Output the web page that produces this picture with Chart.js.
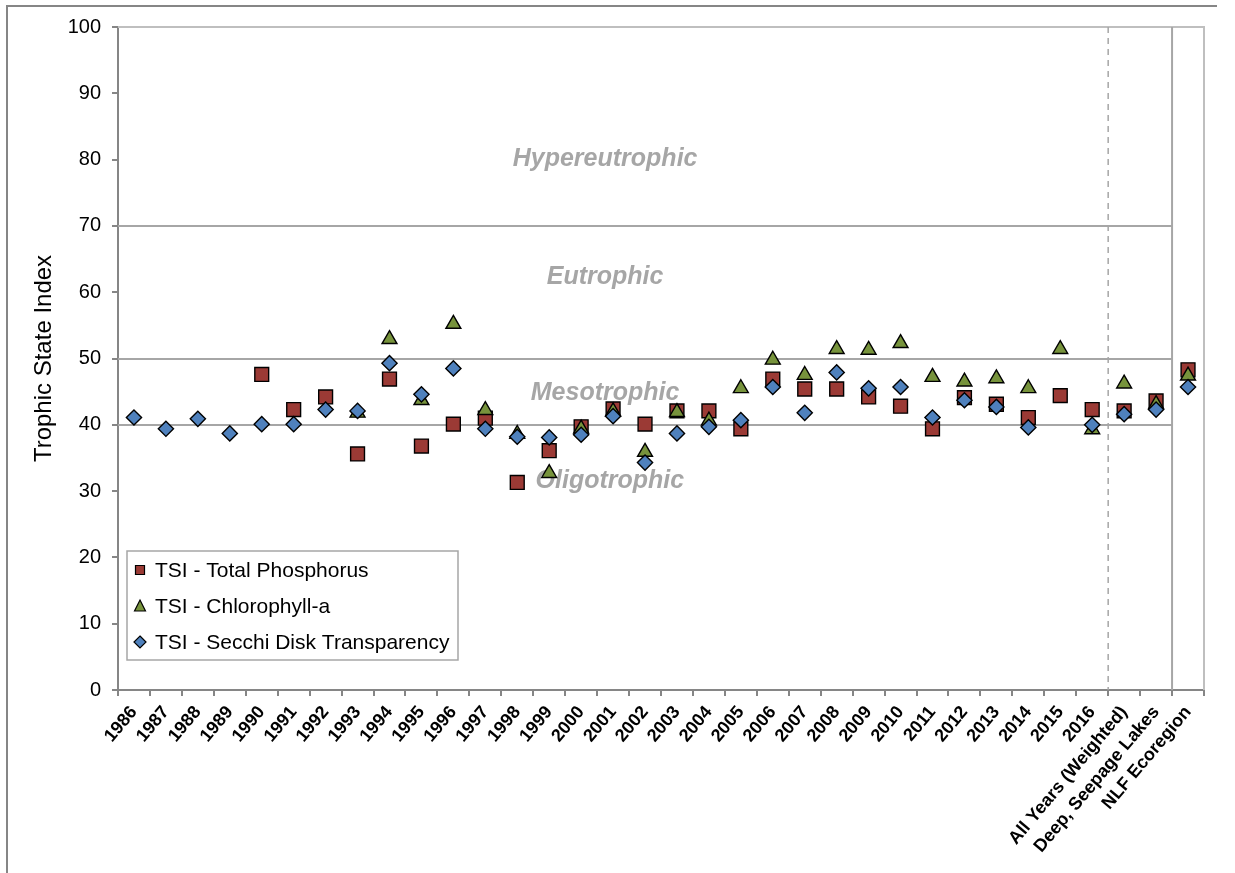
<!DOCTYPE html>
<html>
<head>
<meta charset="utf-8">
<title>Trophic State Index</title>
<script src="https://cdn.jsdelivr.net/npm/chart.js"></script>
<style>
  html, body { margin: 0; padding: 0; background: #fff; }
  canvas { display: block; }
</style>
</head>
<body>
<canvas id="chart" width="1235" height="873"></canvas>
<script>
const categories = ['1986', '1987', '1988', '1989', '1990', '1991', '1992', '1993', '1994', '1995',
  '1996', '1997', '1998', '1999', '2000', '2001', '2002', '2003', '2004', '2005', '2006', '2007',
  '2008', '2009', '2010', '2011', '2012', '2013', '2014', '2015', '2016',
  'All Years (Weighted)', 'Deep, Seepage Lakes', 'NLF Ecoregion'];

const totalPhosphorus = [null, null, null, null, 47.6, 42.3, 44.2, 35.6, 46.9, 36.8,
  40.1, 41.0, 31.3, 36.1, 39.7, 42.4, 40.1, 42.1, 42.1, 39.4, 46.9, 45.4,
  45.4, 44.2, 42.8, 39.4, 44.1, 43.1, 41.1, 44.4, 42.3,
  42.1, 43.6, 48.3];

const chlorophyll = [null, null, null, null, null, null, null, 41.8, 52.9, 43.7,
  55.2, 42.2, 38.6, 32.7, 39.4, 42.0, 35.9, 41.9, 40.6, 45.5, 49.8, 47.5,
  51.4, 51.3, 52.3, 47.2, 46.5, 47.0, 45.5, 51.4, 39.3,
  46.2, 43.1, 47.4];

const secchi = [41.1, 39.4, 40.9, 38.7, 40.1, 40.1, 42.3, 42.1, 49.3, 44.6,
  48.5, 39.4, 38.2, 38.1, 38.5, 41.3, 34.3, 38.7, 39.7, 40.7, 45.7, 41.8,
  47.9, 45.5, 45.7, 41.1, 43.7, 42.7, 39.6, null, 40.0,
  41.6, 42.3, 45.7];

const yTicks = [0, 10, 20, 30, 40, 50, 60, 70, 80, 90, 100];
const zoneLines = [40, 50, 70];
const zoneNames = ['Hypereutrophic', 'Eutrophic', 'Mesotrophic', 'Oligotrophic'];
const zoneLabelY = [80, 62.3, 44.8, 31.5];

const FONT = 'Arial, "Liberation Sans", sans-serif';
const GRAY = '#A6A6A6';
const AXIS = '#868686';

const seriesStyle = [
  { label: 'TSI - Total Phosphorus', color: '#9B3A35', shape: 'square' },
  { label: 'TSI - Chlorophyll-a', color: '#77933C', shape: 'triangle' },
  { label: 'TSI - Secchi Disk Transparency', color: '#4F81BD', shape: 'diamond' }
];

function marker(ctx, shape, x, y, s, fill) {
  ctx.save();
  ctx.fillStyle = fill;
  ctx.strokeStyle = '#000';
  ctx.lineWidth = 1.2;
  ctx.beginPath();
  if (shape === 'square') {
    ctx.rect(x - s / 2, y - s / 2, s, s);
  } else if (shape === 'triangle') {
    ctx.moveTo(x, y - s / 2 - 1);
    ctx.lineTo(x + s / 2 + 0.5, y + s / 2);
    ctx.lineTo(x - s / 2 - 0.5, y + s / 2);
    ctx.closePath();
  } else {
    ctx.moveTo(x, y - s / 2 - 1);
    ctx.lineTo(x + s / 2 + 1, y);
    ctx.lineTo(x, y + s / 2 + 1);
    ctx.lineTo(x - s / 2 - 1, y);
    ctx.closePath();
  }
  ctx.fill();
  ctx.stroke();
  ctx.restore();
}

// frame, plot borders, class boundaries and the class names
const backdrop = {
  id: 'backdrop',
  beforeDraw(chart) {
    const ctx = chart.ctx;
    ctx.save();
    ctx.fillStyle = '#fff';
    ctx.fillRect(0, 0, chart.width, chart.height);
    ctx.strokeStyle = AXIS;
    ctx.lineWidth = 2;
    ctx.beginPath();
    ctx.moveTo(7, 873);
    ctx.lineTo(7, 6);
    ctx.lineTo(1217, 6);
    ctx.stroke();
    ctx.restore();
  },
  beforeDatasetsDraw(chart) {
    const { ctx, chartArea: a, scales: { x, y } } = chart;
    const dashX = (x.getPixelForValue(30) + x.getPixelForValue(31)) / 2;
    const solidX = (x.getPixelForValue(32) + x.getPixelForValue(33)) / 2;
    ctx.save();
    ctx.lineWidth = 2;
    ctx.strokeStyle = '#BFBFBF';
    ctx.beginPath();
    ctx.moveTo(a.left, a.top);
    ctx.lineTo(a.right, a.top);
    ctx.lineTo(a.right, a.bottom);
    ctx.stroke();

    ctx.strokeStyle = GRAY;
    zoneLines.forEach(v => {
      const py = Math.round(y.getPixelForValue(v));
      ctx.beginPath();
      ctx.moveTo(a.left, py);
      ctx.lineTo(solidX, py);
      ctx.stroke();
    });
    ctx.beginPath();
    ctx.moveTo(solidX, a.top);
    ctx.lineTo(solidX, a.bottom);
    ctx.stroke();

    ctx.lineWidth = 1.5;
    ctx.setLineDash([6, 5]);
    ctx.beginPath();
    ctx.moveTo(dashX, a.top);
    ctx.lineTo(dashX, a.bottom);
    ctx.stroke();
    ctx.setLineDash([]);

    ctx.fillStyle = GRAY;
    ctx.font = 'italic bold 25px ' + FONT;
    ctx.textAlign = 'center';
    ctx.textBaseline = 'middle';
    zoneNames.forEach((name, i) => {
      const px = x.getPixelForValue(i === 3 ? 14.9 : 14.75);
      ctx.fillText(name, px, y.getPixelForValue(zoneLabelY[i]));
    });
    ctx.restore();
  },
  afterDraw(chart) {
    const { ctx, chartArea: a } = chart;
    const bx = a.left + 9, by = a.bottom - 139, bw = 331, bh = 109;
    ctx.save();
    ctx.fillStyle = '#fff';
    ctx.fillRect(bx, by, bw, bh);
    ctx.strokeStyle = GRAY;
    ctx.lineWidth = 1.5;
    ctx.strokeRect(bx, by, bw, bh);
    ctx.font = '21px ' + FONT;
    ctx.fillStyle = '#000';
    ctx.textBaseline = 'middle';
    ctx.textAlign = 'left';
    seriesStyle.forEach((s, i) => {
      const ry = by + 19 + i * 36;
      marker(ctx, s.shape, bx + 13, ry, s.shape === 'square' ? 9 : 10, s.color);
      ctx.fillText(s.label, bx + 28, ry + 1);
    });
    ctx.restore();
  }
};

const values = [totalPhosphorus, chlorophyll, secchi];
const pointSpec = [
  { style: 'rect', radius: 9.8, order: 2 },
  { style: 'triangle', radius: 8.6, order: 1 },
  { style: 'rectRot', radius: 7.6, order: 0 }
];

new Chart(document.getElementById('chart'), {
  type: 'line',
  data: {
    labels: categories,
    datasets: seriesStyle.map((s, i) => ({
      label: s.label,
      data: values[i],
      showLine: false,
      order: pointSpec[i].order,
      pointStyle: pointSpec[i].style,
      pointRadius: pointSpec[i].radius,
      pointHoverRadius: pointSpec[i].radius,
      pointBackgroundColor: s.color,
      pointBorderColor: '#000',
      pointBorderWidth: 1.4
    }))
  },
  options: {
    responsive: false,
    animation: false,
    events: [],
    layout: { padding: { top: 27, right: 31, left: 0, bottom: 0 } },
    plugins: {
      legend: { display: false },
      tooltip: { enabled: false }
    },
    scales: {
      x: {
        type: 'category',
        offset: true,
        afterFit(scale) { scale.height = 183; },
        border: { color: AXIS, width: 2 },
        grid: { offset: true, drawOnChartArea: false, color: AXIS, lineWidth: 2, tickLength: 6 },
        ticks: {
          autoSkip: false,
          maxRotation: 50,
          minRotation: 50,
          padding: 6,
          color: '#000',
          font: { family: FONT, size: 18, weight: 'bold' }
        }
      },
      y: {
        min: 0,
        max: 100,
        afterFit(scale) { scale.width = 118; },
        afterBuildTicks(scale) { scale.ticks = yTicks.map(v => ({ value: v })); },
        border: { color: AXIS, width: 2 },
        grid: { drawOnChartArea: false, color: AXIS, lineWidth: 2, tickLength: 6 },
        title: {
          display: true,
          text: 'Trophic State Index',
          color: '#000',
          font: { family: FONT, size: 24 },
          padding: { top: 30, bottom: 0 }
        },
        ticks: {
          padding: 11,
          color: '#000',
          font: { family: FONT, size: 20 }
        }
      }
    }
  },
  plugins: [backdrop]
});
</script>
</body>
</html>
